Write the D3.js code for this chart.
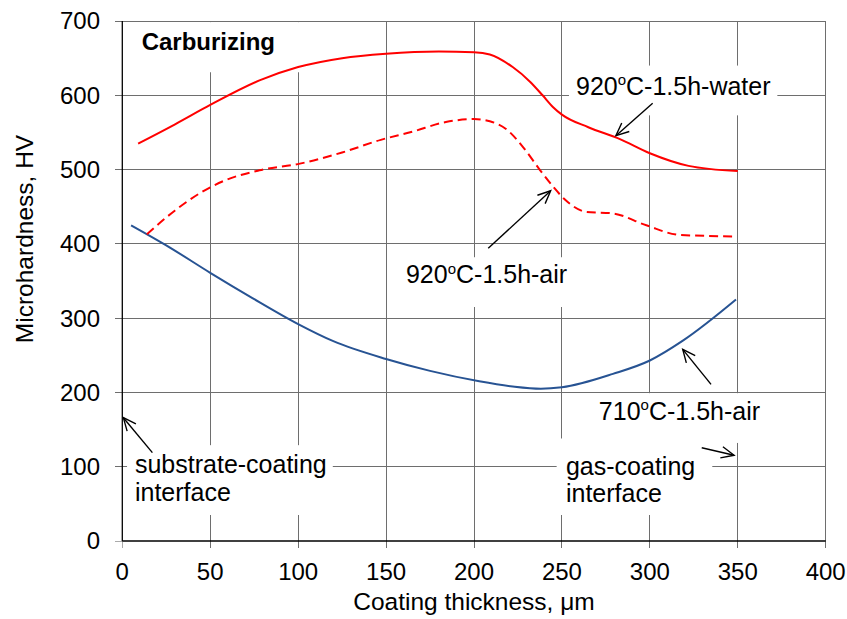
<!DOCTYPE html>
<html><head><meta charset="utf-8">
<script src="https://cdn.jsdelivr.net/npm/d3@7"></script>
<style>
html,body{margin:0;padding:0;background:#fff;}
text{font-family:"Liberation Sans",Arial,sans-serif;fill:#000;}
</style></head>
<body><svg id="chart" width="847" height="619"></svg>
<script>
// ---------- data ----------
const xTicks = [0, 50, 100, 150, 200, 250, 300, 350, 400];
const yTicks = [0, 100, 200, 300, 400, 500, 600, 700];

const water920 = [[9,535],[30,561],[50,587],[78,620],[100,638],[125,650],[150,656],[180,659],[200,658],[209,655],[222,638],[232,618],[239,600],[245,584],[250,574],[265,557],[283,541],[300,522],[322,505],[350,498]];
const air920 = [[14,413],[30,445],[44,468],[59,486],[78,499],[101,508],[125,523],[147,540],[165,551],[184,564],[200,568],[209,565],[218,555],[228,530],[237,501],[245,477],[252,459],[264,443],[279,441],[298,425],[317,412],[349,410]];
const air710 = [[5,425],[25,398],[50,361],[74,327],[100,292],[120,269],[150,245],[175,229],[203,215],[222,208],[238,205],[250,207],[279,225],[300,243],[319,270],[349,325]];

const xTitle = "Coating thickness, μm";
const yTitle = "Microhardness, HV";

// annotation labels (data units)
const labels = [
  {x:11, y:661, parts:["Carburizing"], bold:true},
  {x:258, y:601, parts:["920","o","C-1.5h-water"]},
  {x:161.3, y:347, parts:["920","o","C-1.5h-air"]},
  {x:271, y:163, parts:["710","o","C-1.5h-air"]},
  {x:252.3, y:89, parts:["gas-coating"]},
  {x:252.3, y:53, parts:["interface"]},
  {x:7.2, y:91, parts:["substrate-coating"]},
  {x:7.2, y:54, parts:["interface"]}
];
// white label backgrounds [x0, x1, y0, y1] in data units
const boxes = [
  [2.7, 104, 631, 698.5],
  [254, 372.5, 573, 640],
  [155, 257, 315, 382],
  [265.7, 368, 132, 199],
  [247, 335.5, 35, 138],
  [2.7, 119.7, 35, 129]
];
// arrows [x1,y1,x2,y2] (head at x2,y2)
const arrows = [
  [301.6, 589.2, 280.7, 545.6],
  [208.1, 394, 243.6, 471.5],
  [334.8, 210.9, 318.7, 258],
  [329.5, 125.6, 347.9, 115.4],
  [17.1, 118.9, 0.6, 166]
];

// ---------- chart ----------
const svg = d3.select("#chart");
const x = d3.scaleLinear().domain([0,400]).range([122.3,825.7]);
const y = d3.scaleLinear().domain([0,700]).range([541,21]);
const gridColor = "#6e6e6e";

// gridlines
svg.append("g").selectAll("line").data(yTicks.filter(d=>d>0)).join("line")
  .attr("x1", 115).attr("x2", x(400)).attr("y1", d=>y(d)).attr("y2", d=>y(d))
  .attr("stroke", gridColor).attr("stroke-width",1).attr("shape-rendering","crispEdges");
svg.append("g").selectAll("line").data(xTicks.filter(d=>d>0)).join("line")
  .attr("x1", d=>x(d)).attr("x2", d=>x(d)).attr("y1", y(700)).attr("y2", 548)
  .attr("stroke", gridColor).attr("stroke-width",1).attr("shape-rendering","crispEdges");
// small ticks at zero
svg.append("line").attr("x1",115).attr("x2",x(0)).attr("y1",y(0)).attr("y2",y(0))
  .attr("stroke","#aaa").attr("shape-rendering","crispEdges");
svg.append("line").attr("x1",x(0)).attr("x2",x(0)).attr("y1",y(0)).attr("y2",548)
  .attr("stroke","#aaa").attr("shape-rendering","crispEdges");

// label boxes
svg.append("g").selectAll("rect").data(boxes).join("rect")
  .attr("x", d=>x(d[0])).attr("width", d=>x(d[1])-x(d[0]))
  .attr("y", d=>y(d[3])).attr("height", d=>y(d[2])-y(d[3]))
  .attr("fill","#fff");

// axes lines
svg.append("line").attr("x1",x(0)).attr("x2",x(0)).attr("y1",y(0)).attr("y2",y(700))
  .attr("stroke","#000").attr("stroke-width",1.3);
svg.append("line").attr("x1",x(0)).attr("x2",x(400)).attr("y1",y(0)).attr("y2",y(0))
  .attr("stroke","#000").attr("stroke-width",1.3);

// tick labels
svg.append("g").selectAll("text").data(yTicks).join("text")
  .attr("x", 100).attr("y", d=>y(d)).attr("dy","0.35em")
  .attr("text-anchor","end").attr("font-size",24).text(d=>d);
svg.append("g").selectAll("text").data(xTicks).join("text")
  .attr("x", d=>x(d)).attr("y", 580)
  .attr("text-anchor","middle").attr("font-size",24).text(d=>d);

// axis titles
svg.append("text").attr("x",474).attr("y",610).attr("text-anchor","middle")
  .attr("font-size",24.5).text(xTitle);
svg.append("text").attr("transform","translate(32.5,239) rotate(-90)")
  .attr("text-anchor","middle").attr("font-size",24.5).text(yTitle);

// curves
const line = d3.line().x(d=>x(d[0])).y(d=>y(d[1])).curve(d3.curveMonotoneX);
svg.append("path").datum(air710).attr("d",line).attr("fill","none")
  .attr("stroke","#275393").attr("stroke-width",2);
svg.append("path").datum(air920).attr("d",line).attr("fill","none")
  .attr("stroke","#ff0000").attr("stroke-width",2).attr("stroke-dasharray","9,5");
svg.append("path").datum(water920).attr("d",line).attr("fill","none")
  .attr("stroke","#ff0000").attr("stroke-width",2);

// labels
labels.forEach(l=>{
  const t = svg.append("text").attr("x", x(l.x)).attr("y", y(l.y))
    .attr("font-size", l.bold?24:25).attr("font-weight", l.bold?"bold":"normal");
  if (l.parts.length===1) { t.text(l.parts[0]); }
  else {
    t.append("tspan").text(l.parts[0]);
    t.append("tspan").attr("font-size",15).attr("dy",-9.5).text(l.parts[1]);
    t.append("tspan").attr("dy",9.5).text(l.parts[2]);
  }
});

// arrows
const ag = svg.append("g").attr("stroke","#000").attr("stroke-width",1.4).attr("fill","none");
arrows.forEach(a=>{
  const x1=x(a[0]), y1=y(a[1]), x2=x(a[2]), y2=y(a[3]);
  const ang = Math.atan2(y2-y1, x2-x1);
  const L=14, w=0.42;
  ag.append("line").attr("x1",x1).attr("y1",y1).attr("x2",x2).attr("y2",y2);
  ag.append("path").attr("d",
    `M${x2-L*Math.cos(ang-w)},${y2-L*Math.sin(ang-w)}L${x2},${y2}L${x2-L*Math.cos(ang+w)},${y2-L*Math.sin(ang+w)}`);
});
</script></body></html>
